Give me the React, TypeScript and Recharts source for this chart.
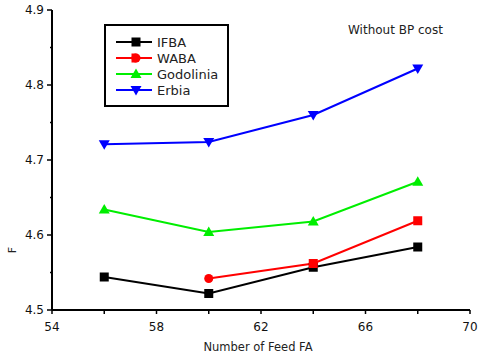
import React from 'react';
import { LineChart, Line, XAxis, YAxis, Legend } from 'recharts';

const feedFA = [56, 60, 64, 68];
const ifba = [4.544, 4.522, 4.557, 4.584];
const waba: (number | null)[] = [null, 4.542, 4.562, 4.619];
const godolinia = [4.634, 4.604, 4.618, 4.671];
const erbia = [4.721, 4.724, 4.760, 4.822];

const xTicks = [54, 56, 58, 60, 62, 64, 66, 68, 70];
const xMajor = [54, 58, 62, 66, 70];
const yTicks = [4.5, 4.55, 4.6, 4.65, 4.7, 4.75, 4.8, 4.85, 4.9];
const yMajor = [4.5, 4.6, 4.7, 4.8, 4.9];

const seriesNames = ['IFBA', 'WABA', 'Godolinia', 'Erbia'];
const seriesColors = ['#000000', '#ff0000', '#00ee00', '#0000ff'];

const data = feedFA.map((x, i) => ({
  x,
  IFBA: ifba[i],
  WABA: waba[i],
  Godolinia: godolinia[i],
  Erbia: erbia[i],
}));

const FONT = '"DejaVu Sans", Verdana, sans-serif';
const isMajorY = (v: number) => yMajor.some((m) => Math.abs(m - v) < 1e-6);

const BottomTick = (p: any) => {
  const { x, y, payload } = p;
  const major = xMajor.includes(payload.value);
  return (
    <g>
      <line x1={x} x2={x} y1={y} y2={y + 4} stroke="#000" strokeWidth={1.5} />
      {major && (
        <text x={x} y={y + 21} textAnchor="middle" fontFamily={FONT} fontSize={12} fill="#111">
          {payload.value}
        </text>
      )}
    </g>
  );
};

const TopTick = (p: any) => {
  const { x, y } = p;
  return <line x1={x} x2={x} y1={y} y2={y + 5} stroke="#000" strokeWidth={1.5} />;
};

const LeftTick = (p: any) => {
  const { x, y, payload } = p;
  const major = isMajorY(payload.value);
  return (
    <g>
      <line x1={x - (major ? 5 : 2)} x2={x} y1={y} y2={y} stroke="#000" strokeWidth={1.5} />
      {major && (
        <text x={x - 8} y={y + 4} textAnchor="end" fontFamily={FONT} fontSize={12} fill="#111">
          {payload.value.toFixed(1)}
        </text>
      )}
    </g>
  );
};

const RightTick = (p: any) => {
  const { x, y } = p;
  return <line x1={x - 6} x2={x} y1={y} y2={y} stroke="#000" strokeWidth={1.5} />;
};

const Square = (color: string) => (p: any) => {
  const { cx, cy, index } = p;
  if (cx == null || cy == null || p.value == null) return <g key={index} />;
  return <rect key={index} x={cx - 4.5} y={cy - 4.5} width={9} height={9} fill={color} />;
};

const WabaDot = (p: any) => {
  const { cx, cy, index, payload } = p;
  if (cx == null || cy == null || payload.WABA == null) return <g key={index} />;
  if (index === 1) return <circle key={index} cx={cx} cy={cy} r={4.5} fill="#ff0000" />;
  return <rect key={index} x={cx - 4.5} y={cy - 4.5} width={9} height={9} fill="#ff0000" />;
};

const TriUp = (p: any) => {
  const { cx, cy, index } = p;
  if (cx == null || cy == null) return <g key={index} />;
  return <path key={index} d={`M${cx},${cy - 5.5}L${cx + 5.5},${cy + 4}L${cx - 5.5},${cy + 4}Z`} fill="#00ee00" />;
};

const TriDown = (p: any) => {
  const { cx, cy, index } = p;
  if (cx == null || cy == null) return <g key={index} />;
  return <path key={index} d={`M${cx},${cy + 5.5}L${cx + 5.5},${cy - 4}L${cx - 5.5},${cy - 4}Z`} fill="#0000ff" />;
};

const legendMarker = (i: number, cx: number, cy: number) => {
  const c = seriesColors[i];
  if (i === 0) return <rect x={cx - 4.5} y={cy - 4.5} width={9} height={9} fill={c} />;
  if (i === 1)
    return (
      <g>
        <rect x={cx - 4.5} y={cy - 4.5} width={5} height={9} fill={c} />
        <circle cx={cx} cy={cy} r={4.5} fill={c} />
      </g>
    );
  if (i === 2) return <path d={`M${cx},${cy - 5.5}L${cx + 5.5},${cy + 4}L${cx - 5.5},${cy + 4}Z`} fill={c} />;
  return <path d={`M${cx},${cy + 5.5}L${cx + 5.5},${cy - 4}L${cx - 5.5},${cy - 4}Z`} fill={c} />;
};

const renderLegend = () => (
  <svg width={126} height={84} style={{ display: 'block' }}>
    <rect x={1} y={1} width={123} height={81} fill="#fff" stroke="#000" strokeWidth={2} />
    {seriesNames.map((n, i) => {
      const cy = 18 + i * 16;
      return (
        <g key={n}>
          <line x1={12} x2={48} y1={cy} y2={cy} stroke={seriesColors[i]} strokeWidth={2} />
          {legendMarker(i, 32, cy)}
          <text x={53} y={cy + 5} fontFamily={FONT} fontSize={13} fill="#222">
            {n}
          </text>
        </g>
      );
    })}
  </svg>
);

export default function App() {
  return (
    <div style={{ position: 'absolute', left: 0, top: 0, width: 481, height: 361, background: '#fff' }}>
      <LineChart width={481} height={361} data={data} margin={{ top: 10, right: 11, bottom: 21, left: 0 }}>
        <XAxis
          dataKey="x"
          type="number"
          domain={[54, 70]}
          ticks={xTicks}
          interval={0}
          tickSize={0}
          tickMargin={0}
          tickLine={false}
          tick={<BottomTick />}
          height={30}
          axisLine={{ stroke: '#000', strokeWidth: 2 }}
          label={{
            content: () => (
              <text x={258} y={351} textAnchor="middle" fontFamily={FONT} fontSize={11.5} fill="#222">
                Number of Feed FA
              </text>
            ),
          }}
        />
        <XAxis
          xAxisId="top"
          orientation="top"
          dataKey="x"
          type="number"
          domain={[54, 70]}
          ticks={xMajor}
          interval={0}
          tickSize={0}
          tickMargin={0}
          tickLine={false}
          tick={<TopTick />}
          height={0}
          axisLine={{ stroke: '#000', strokeWidth: 2 }}
        />
        <YAxis
          type="number"
          domain={[4.5, 4.9]}
          ticks={yTicks}
          interval={0}
          tickSize={0}
          tickMargin={0}
          tickLine={false}
          tick={<LeftTick />}
          width={52}
          axisLine={{ stroke: '#000', strokeWidth: 2 }}
          label={{
            content: () => (
              <text
                x={16}
                y={250}
                textAnchor="middle"
                transform="rotate(-90 16 250)"
                fontFamily={FONT}
                fontSize={11}
                fill="#222"
              >
                F
              </text>
            ),
          }}
        />
        <YAxis
          yAxisId="right"
          orientation="right"
          type="number"
          domain={[4.5, 4.9]}
          ticks={yMajor}
          interval={0}
          tickSize={0}
          tickMargin={0}
          tickLine={false}
          tick={<RightTick />}
          width={0}
          axisLine={{ stroke: '#000', strokeWidth: 2 }}
        />
        <Legend
          layout="vertical"
          align="center"
          verticalAlign="middle"
          content={renderLegend}
          wrapperStyle={{ position: 'absolute', left: 104, top: 24, width: 126, height: 84 }}
        />
        <Line dataKey="IFBA" stroke="#000000" strokeWidth={2} dot={Square('#000000')} isAnimationActive={false} />
        <Line dataKey="WABA" stroke="#ff0000" strokeWidth={2} dot={WabaDot} isAnimationActive={false} />
        <Line dataKey="Godolinia" stroke="#00ee00" strokeWidth={2} dot={TriUp} isAnimationActive={false} />
        <Line dataKey="Erbia" stroke="#0000ff" strokeWidth={2} dot={TriDown} isAnimationActive={false} />
      </LineChart>
      <svg
        width={481}
        height={361}
        style={{ position: 'absolute', left: 0, top: 0, pointerEvents: 'none' }}
      >
        <text x={348} y={34} fontFamily={FONT} fontSize={12} fill="#222">
          Without BP cost
        </text>
      </svg>
    </div>
  );
}
